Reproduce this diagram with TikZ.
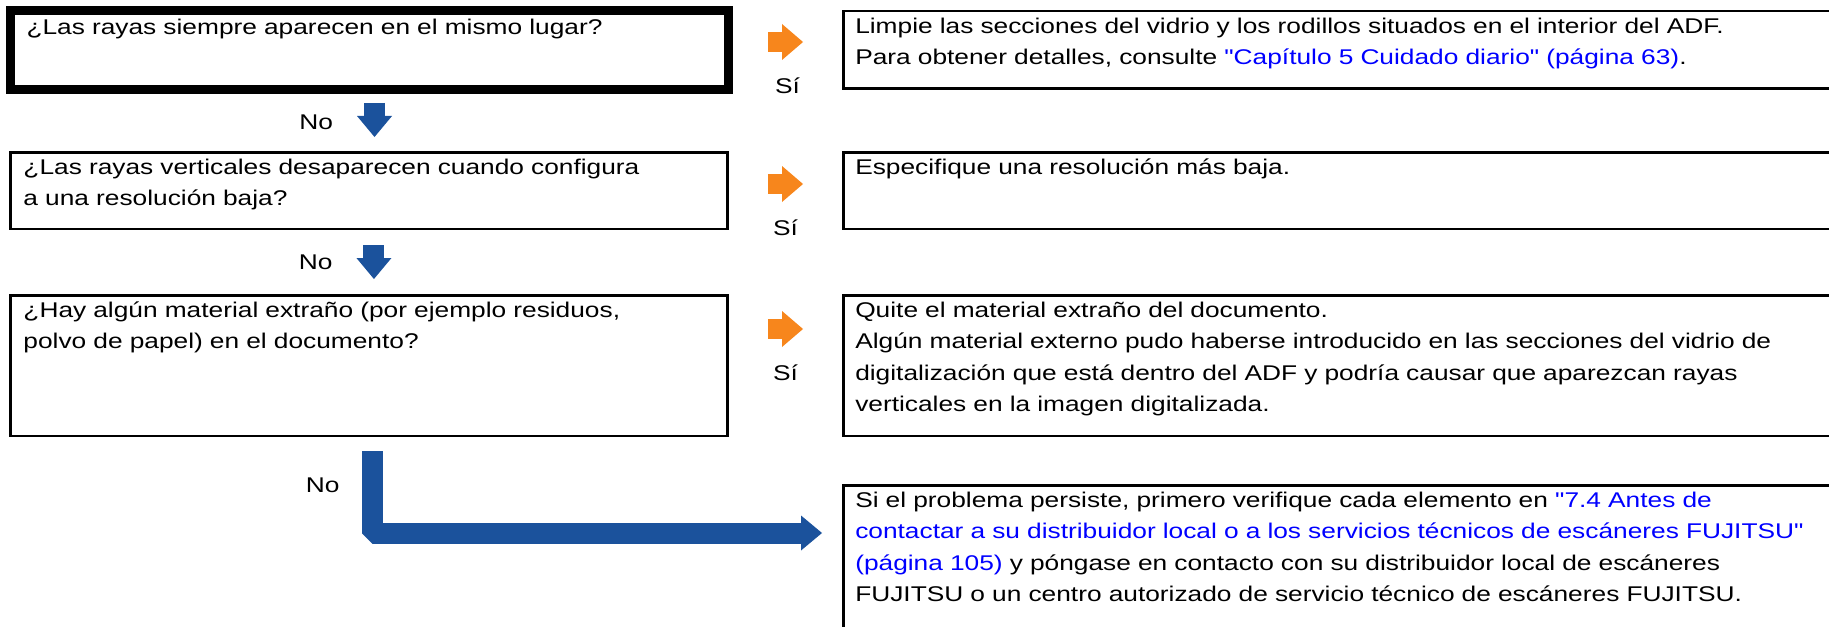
\documentclass[tikz,border=0pt]{standalone}
\usepackage{fontspec}
\setmainfont{Liberation Sans}[Ligatures=TeXOff,FakeStretch=1.235]
\usepackage{xcolor}
\usetikzlibrary{arrows.meta,positioning,calc}
\definecolor{FlowBlue}{HTML}{1B529C}
\definecolor{FlowOrange}{HTML}{F7861C}
\definecolor{LinkBlue}{HTML}{0000FF}
\newcommand{\lnk}[1]{\textcolor{LinkBlue}{#1}}

\begin{document}
\begin{tikzpicture}[x=0.5pt, y=-0.5pt, every node/.style={font=\fontsize{10.65pt}{15.75pt}\selectfont}, box/.style={draw,line width=1.25pt,anchor=north west,align=left,inner xsep=6.6pt,inner ysep=2.25pt,text height=8.75pt}, qbox/.style={box,text width=345.5pt}, abox/.style={box,inner xsep=6pt,text width=516pt}, noarr/.style={draw=FlowBlue,line width=10.5pt,line join=bevel,-{Triangle[length=10.5pt,width=17.5pt,line width=0pt]}}, siarr/.style={draw=FlowOrange,line width=10pt,-{Triangle[length=10.5pt,width=18pt,line width=0pt]}}, lbl/.style={inner sep=0pt,text=black}]
\useasboundingbox (0,0) rectangle (1829,626);
\clip (0,0) rectangle (1829,626);
% preguntas
\node[qbox,line width=4.5pt,inner xsep=8pt,text width=343pt,text height=10pt,text depth=25pt] (q1) at (6,6) {¿Las rayas siempre aparecen en el mismo lugar?};
\node[qbox,text depth=25pt] (q2) at (9,151) {¿Las rayas verticales desaparecen cuando configura\\a una resolución baja?};
\node[qbox,text depth=57pt] (q3) at (9,294) {¿Hay algún material extraño (por ejemplo residuos,\\polvo de papel) en el documento?};
% respuestas
\node[abox,text depth=25.5pt] (a1) at (842,10) {Limpie las secciones del vidrio y los rodillos situados en el interior del ADF.\\Para obtener detalles, consulte \lnk{"Capítulo 5 Cuidado diario" (página 63)}.};
\node[abox,text depth=25pt] (a2) at (842,151) {Especifique una resolución más baja.};
\node[abox,text depth=57pt] (a3) at (842,294) {Quite el material extraño del documento.\\Algún material externo pudo haberse introducido en las secciones del vidrio de\\digitalización que está dentro del ADF y podría causar que aparezcan rayas\\verticales en la imagen digitalizada.};
\node[abox,text depth=100pt] (a4) at (842,484) {Si el problema persiste, primero verifique cada elemento en \lnk{"7.4 Antes de}\\\lnk{contactar a su distribuidor local o a los servicios técnicos de escáneres FUJITSU"}\\\lnk{(página 105)} y póngase en contacto con su distribuidor local de escáneres\\FUJITSU o un centro autorizado de servicio técnico de escáneres FUJITSU.};
% flechas Sí
\draw[siarr,shorten <=17.5pt,shorten >=19.5pt] ($(q1.north east)+(0,36)$) -- ($(q1.north east -| a1.west)+(0,36)$) node[lbl,midway,yshift=-22pt] {Sí};
\draw[siarr,shorten <=19.5pt,shorten >=19.5pt] ($(q2.north east)+(0,33)$) -- ($(q2.north east -| a2.west)+(0,33)$) node[lbl,midway,yshift=-22pt] {Sí};
\draw[siarr,shorten <=19.5pt,shorten >=19.5pt] ($(q3.north east)+(0,35)$) -- ($(q3.north east -| a3.west)+(0,35)$) node[lbl,midway,yshift=-22pt] {Sí};
% flechas No
\draw[noarr,shorten <=4.5pt,shorten >=7pt] ($(q1.south)+(5,0)$) -- ($(q1.south |- q2.north)+(5,0)$) node[lbl,midway,left=15.5pt] {No};
\draw[noarr,shorten <=7.5pt,shorten >=7.5pt] ($(q2.south)+(5,0)$) -- ($(q2.south |- q3.north)+(5,0)$) node[lbl,midway,left=15.5pt] {No};
\draw[noarr,shorten <=7pt,shorten >=10pt] ($(q3.south)+(3.5,0)$) |- ($(a4.north west)+(0,49)$) node[lbl,pos=0.25,left=11.25pt] {No};
\end{tikzpicture}
\end{document}
